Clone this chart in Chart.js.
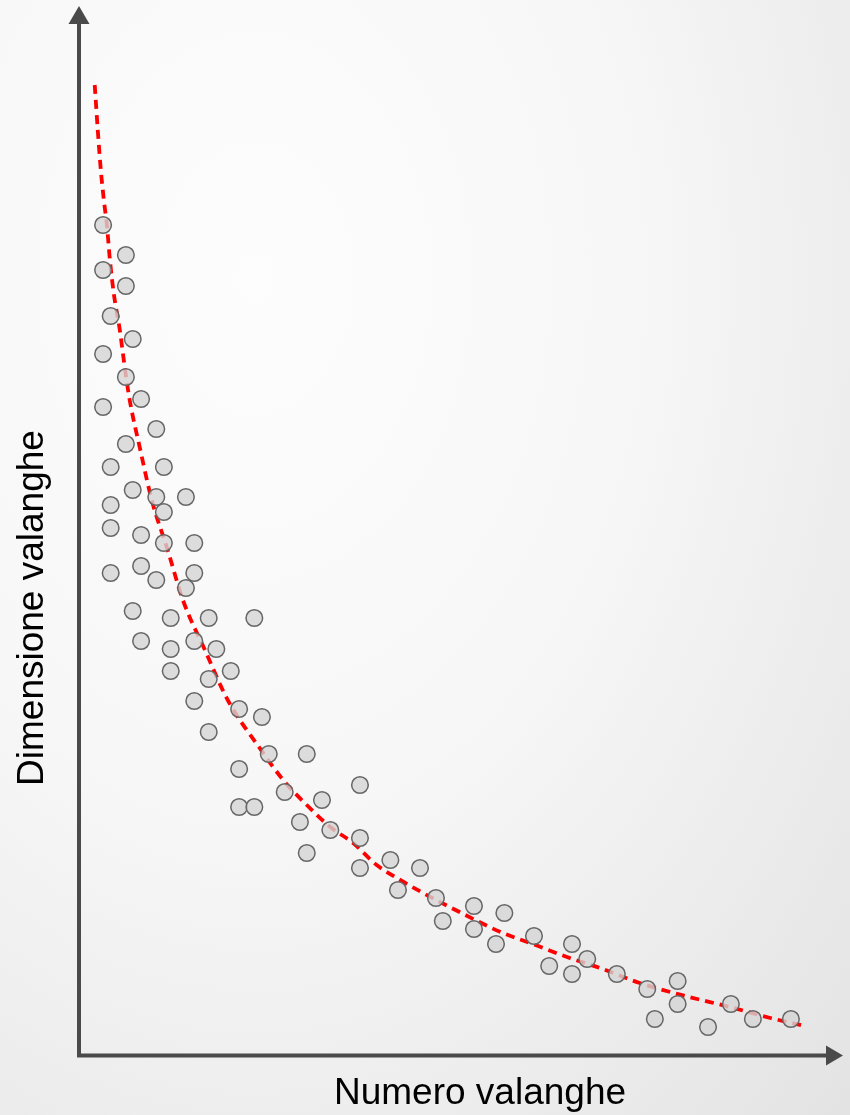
<!DOCTYPE html>
<html>
<head>
<meta charset="utf-8">
<title>Dimensione valanghe</title>
<script src="https://cdn.jsdelivr.net/npm/chart.js@4"></script>
<style>
  html, body { margin: 0; padding: 0; }
  body {
    width: 850px; height: 1115px; overflow: hidden;
    background: radial-gradient(ellipse at 30% 25%, #fdfdfd 0%, #f7f7f7 45%, #e3e3e3 100%);
  }
  canvas { display: block; }
</style>
</head>
<body>
<canvas id="chart" width="850" height="1115"></canvas>
<script>
// osservazioni (x = numero, y = dimensione), unità arbitrarie 0-100
const puntiX = [3.3, 6.3, 3.3, 6.3, 4.3, 7.2, 3.3, 6.3, 8.3, 3.3,
  10.3, 6.3, 4.3, 11.3, 7.2, 10.3, 14.2, 4.3, 11.3, 4.3,
  8.3, 11.3, 15.3, 8.3, 4.3, 15.3, 10.3, 14.2, 7.2, 12.2,
  17.2, 23.2, 8.3, 15.3, 12.2, 18.2, 12.2, 20.1, 17.2, 15.3,
  21.2, 24.2, 17.2, 25.1, 30.1, 21.2, 37.1, 27.2, 32.1, 21.2,
  23.2, 29.2, 33.2, 37.1, 30.1, 41.1, 37.1, 45.0, 42.1, 47.1,
  52.1, 48.0, 56.1, 52.1, 60.0, 55.0, 65.0, 62.0, 67.0, 65.0,
  70.9, 74.9, 78.9, 78.9, 75.9, 85.9, 88.8, 82.9, 93.8];
const puntiY = [83.0, 80.0, 78.5, 76.9, 73.9, 71.6, 70.1, 67.8, 65.6, 64.8,
  62.6, 61.1, 58.8, 58.8, 56.5, 55.8, 55.8, 55.0, 54.3, 52.7,
  52.0, 51.2, 51.2, 48.9, 48.2, 48.2, 47.5, 46.7, 44.4, 43.7,
  43.7, 43.7, 41.4, 41.4, 40.6, 40.6, 38.4, 38.4, 37.6, 35.4,
  34.6, 33.8, 32.3, 30.1, 30.1, 28.6, 27.0, 26.3, 25.5, 24.8,
  24.8, 23.3, 22.5, 21.7, 20.2, 19.5, 18.7, 18.7, 16.5, 15.7,
  14.9, 13.4, 14.2, 12.6, 11.9, 11.1, 11.1, 8.9, 9.6, 8.1,
  8.1, 6.6, 7.4, 5.1, 3.6, 5.1, 3.6, 2.8, 3.6];

// curva di tendenza
const curvaX = [2.2, 2.6, 3.0, 3.4, 3.8, 4.2, 4.7, 5.5, 6.2, 6.8,
  8.2, 9.7, 11.8, 13.8, 16.7, 19.7, 23.9, 27.0, 30.1, 33.2,
  36.2, 39.3, 42.4, 45.4, 48.9, 55.9, 59.5, 64.7, 68.7, 73.9,
  79.9, 85.8, 91.1, 95.7];
const curvaY = [97.0, 92.5, 88.5, 85.5, 83.0, 79.5, 76.2, 72.5, 68.5, 65.5,
  60.5, 55.5, 50.5, 45.5, 40.5, 35.5, 30.7, 27.5, 25.0, 22.8,
  21.2, 19.0, 17.5, 16.2, 14.8, 12.2, 11.2, 9.7, 8.7, 7.2,
  5.9, 4.8, 3.7, 2.9];

const titoloX = 'Numero valanghe';
const titoloY = 'Dimensione valanghe';

const punti = puntiX.map((x, i) => ({ x: x, y: puntiY[i] }));
const curva = curvaX.map((x, i) => ({ x: x, y: curvaY[i] }));

const FONT = '37px "Liberation Sans", Arial, sans-serif';
const AXIS_COLOR = '#4a4a4a';

// assi con frecce e titoli
const assiPlugin = {
  id: 'assi',
  beforeDatasetsDraw(chart) {
    const ctx = chart.ctx;
    const a = chart.chartArea;
    const x0 = a.left + 1;
    const y0 = a.bottom + 0.5;
    ctx.save();
    ctx.strokeStyle = AXIS_COLOR;
    ctx.fillStyle = AXIS_COLOR;
    ctx.lineWidth = 4;

    ctx.beginPath();
    ctx.moveTo(x0, y0 + 2);
    ctx.lineTo(x0, 22);
    ctx.moveTo(x0 - 2, y0);
    ctx.lineTo(828, y0);
    ctx.stroke();

    ctx.beginPath();
    ctx.moveTo(x0, 6);
    ctx.lineTo(x0 - 10.5, 24);
    ctx.lineTo(x0 + 10.5, 24);
    ctx.closePath();
    ctx.fill();

    ctx.beginPath();
    ctx.moveTo(843, y0);
    ctx.lineTo(826, y0 - 10);
    ctx.lineTo(826, y0 + 10);
    ctx.closePath();
    ctx.fill();

    ctx.fillStyle = '#000';
    ctx.font = FONT;
    ctx.textAlign = 'center';
    ctx.textBaseline = 'middle';
    ctx.fillText(titoloX, 480, 1094);

    ctx.translate(33, 608);
    ctx.rotate(-Math.PI / 2);
    ctx.fillText(titoloY, 0, 0);
    ctx.restore();
  }
};

new Chart(document.getElementById('chart'), {
  type: 'scatter',
  data: {
    datasets: [
      {
        label: 'valanghe',
        data: punti,
        order: 1,
        pointRadius: 8.3,
        pointHoverRadius: 8.3,
        pointBackgroundColor: 'rgba(212,212,212,0.8)',
        pointBorderColor: '#666666',
        pointBorderWidth: 1.5,
        clip: false
      },
      {
        label: 'tendenza',
        type: 'line',
        data: curva,
        order: 2,
        showLine: true,
        fill: false,
        borderColor: '#ff0000',
        borderWidth: 3.8,
        borderDash: [9, 6],
        cubicInterpolationMode: 'monotone',
        pointRadius: 0,
        clip: false
      }
    ]
  },
  options: {
    responsive: false,
    animation: false,
    events: [],
    layout: { padding: { left: 78, right: 12, top: 55, bottom: 60 } },
    plugins: { legend: { display: false }, tooltip: { enabled: false } },
    scales: {
      x: { type: 'linear', min: 0, max: 100, display: false },
      y: { type: 'linear', min: 0, max: 100, display: false }
    }
  },
  plugins: [assiPlugin]
});
</script>
</body>
</html>
